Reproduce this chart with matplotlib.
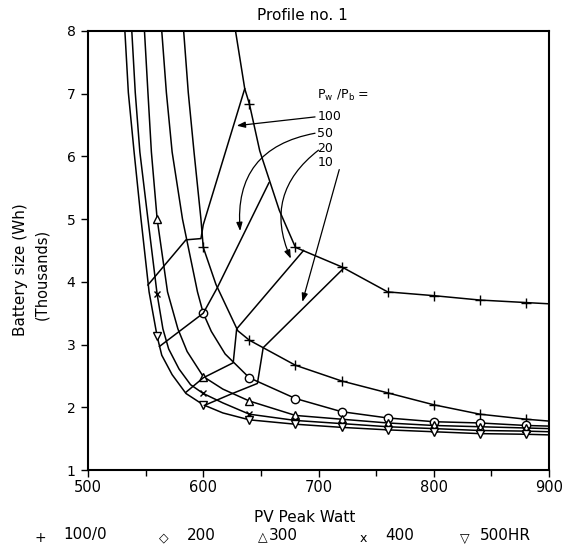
import matplotlib.pyplot as plt
from matplotlib.ticker import MultipleLocator

plt.rcParams['font.family'] = 'DejaVu Sans'

# PV peak watt (x) vs battery size in thousand Wh (y)
plus_top_x = [628, 636, 640, 649, 666, 680, 720, 760, 800, 840, 880, 900]
plus_top_y = [8.0, 7.08, 6.84, 6.09, 5.14, 4.55, 4.24, 3.84, 3.78, 3.71, 3.67, 3.65]

plus_low_x = [583, 587, 592, 598, 600, 611, 630, 640, 680, 720, 760, 800, 840, 880, 900]
plus_low_y = [8.0, 7.02, 6.07, 5.0, 4.55, 3.96, 3.22, 3.07, 2.67, 2.42, 2.23, 2.04, 1.89, 1.81, 1.78]

dia_x = [564, 568, 573, 582, 595, 600, 607, 619, 640, 680, 720, 760, 800, 840, 880, 900]
dia_y = [8.0, 7.02, 6.07, 5.0, 3.84, 3.5, 3.21, 2.85, 2.47, 2.14, 1.93, 1.83, 1.77, 1.75, 1.71, 1.70]

tri_x = [549, 552, 555, 560, 569, 578, 586, 600, 617, 640, 680, 720, 760, 800, 840, 880, 900]
tri_y = [8.0, 7.02, 6.07, 5.0, 3.84, 3.25, 2.89, 2.49, 2.29, 2.10, 1.87, 1.81, 1.75, 1.71, 1.69, 1.67, 1.66]

cross_x = [538, 541, 545, 552, 560, 565, 570, 579, 589, 600, 617, 640, 680, 720, 760, 800, 840, 880, 900]
cross_y = [8.0, 7.02, 6.07, 5.0, 3.8, 3.25, 2.93, 2.61, 2.36, 2.22, 2.07, 1.89, 1.79, 1.74, 1.69, 1.66, 1.63, 1.62, 1.61]

vee_x = [532, 535, 540, 546, 553, 560, 564, 573, 585, 600, 617, 640, 680, 720, 760, 800, 840, 880, 900]
vee_y = [8.0, 7.02, 6.07, 5.0, 3.84, 3.13, 2.83, 2.52, 2.22, 2.04, 1.91, 1.80, 1.73, 1.68, 1.64, 1.61, 1.58, 1.57, 1.56]

# points that carry a marker
mark_x = [560, 600, 640, 680, 720, 760, 800, 840, 880]

# Pw/Pb = const lines across the curves
iso100_x = [636, 600, 598, 585, 552]
iso100_y = [7.08, 4.91, 4.69, 4.67, 3.95]
iso50_x = [657, 612, 600, 562]
iso50_y = [5.58, 3.90, 3.5, 2.97]
iso20_x = [687, 629, 626, 600, 585]
iso20_y = [4.5, 3.25, 2.71, 2.47, 2.24]
iso10_x = [722, 652, 647, 624, 601]
iso10_y = [4.22, 2.95, 2.38, 2.21, 2.03]

ratio_labels = ['100', '50', '20', '10']
legend_symbols = ['+', '\u25c7', '\u25b3', 'x', '\u25bd']
legend_labels = ['100/0', '200', '300', '400', '500HR']

fig = plt.figure(figsize=(5.62, 5.54), dpi=100)
ax = fig.add_axes([88 / 562, 84 / 554, 461 / 562, 439 / 554])

curves = [
    (plus_top_x, plus_top_y, '+', 7),
    (plus_low_x, plus_low_y, '+', 7),
    (dia_x, dia_y, 'o', 6),
    (tri_x, tri_y, '^', 6),
    (cross_x, cross_y, 'x', 5),
    (vee_x, vee_y, 'v', 6),
]
for xs, ys, m, ms in curves:
    ax.plot(xs, ys, color='black', lw=1.1)
    mx = [x for x in xs if x in mark_x]
    my = [y for x, y in zip(xs, ys) if x in mark_x]
    ax.plot(mx, my, ls='none', marker=m, ms=ms, mfc='white', mec='black', mew=1.0)

for xs, ys in [(iso100_x, iso100_y), (iso50_x, iso50_y), (iso20_x, iso20_y), (iso10_x, iso10_y)]:
    ax.plot(xs, ys, color='black', lw=1.1)

# ratio key and pointers
ax.text(721, 6.98, r'P$_\mathregular{w}$ /P$_\mathregular{b}$ =', ha='center', va='center', fontsize=9)
for lab, yy in zip(ratio_labels, [6.63, 6.37, 6.13, 5.90]):
    ax.text(699, yy, lab, ha='left', va='center', fontsize=9)

arrow = dict(arrowstyle='-|>,head_length=0.5,head_width=0.18', color='black', lw=0.9,
             shrinkA=0, shrinkB=0)
ax.annotate('', xy=(629, 6.49), xytext=(697, 6.63), arrowprops=arrow)
ax.annotate('', xy=(632, 4.81), xytext=(697, 6.37),
            arrowprops=dict(arrow, connectionstyle='arc3,rad=0.45'))
ax.annotate('', xy=(676, 4.37), xytext=(700, 6.10),
            arrowprops=dict(arrow, connectionstyle='arc3,rad=0.39'))
ax.annotate('', xy=(686, 3.68), xytext=(718, 5.79), arrowprops=arrow)

ax.set_xlim(500, 900)
ax.set_ylim(1, 8)
ax.xaxis.set_major_locator(MultipleLocator(100))
ax.xaxis.set_minor_locator(MultipleLocator(50))
ax.yaxis.set_major_locator(MultipleLocator(1))
ax.tick_params(axis='x', which='major', direction='out', length=5, width=1.0, labelsize=10.5, pad=2)
ax.tick_params(axis='x', which='minor', direction='out', length=4, width=1.0)
ax.tick_params(axis='y', direction='out', length=5, width=1.0, labelsize=10, pad=4)
for s in ax.spines.values():
    s.set_linewidth(1.5)

fig.text(302 / 562, 1 - 15 / 554, 'Profile no. 1', ha='center', va='center', fontsize=11)
fig.text(305 / 562, 1 - 518 / 554, 'PV Peak Watt', ha='center', va='center', fontsize=11)
fig.text(20 / 562, 1 - 270 / 554, 'Battery size (Wh)', rotation=90, ha='center', va='center', fontsize=11)
fig.text(42 / 562, 1 - 274 / 554, '(Thousands)', rotation=90, ha='center', va='center', fontsize=10.5)

# bottom key
sym_x = [40, 164, 263, 363, 465]
lab_x = [63, 187, 269, 385, 480]
for sym, lab, sx, lx in zip(legend_symbols, legend_labels, sym_x, lab_x):
    fig.text(sx / 562, 1 - 538 / 554, sym, ha='center', va='center', fontsize=10 if sym == '+' else 9)
    fig.text(lx / 562, 1 - 535 / 554, lab, ha='left', va='center', fontsize=11)

fig.savefig('out.png', dpi=100)
